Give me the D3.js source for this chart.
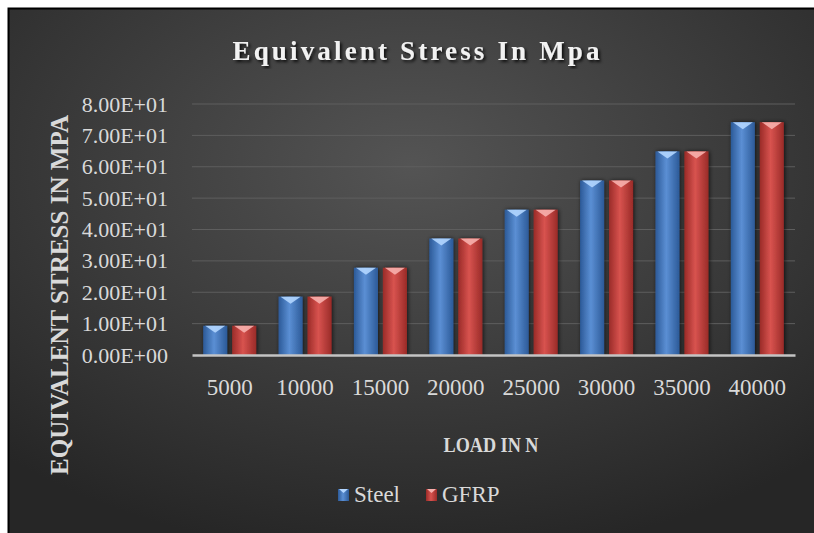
<!DOCTYPE html>
<html>
<head>
<meta charset="utf-8">
<script src="https://cdn.jsdelivr.net/npm/d3@7"></script>
<style>
  body { margin: 0; background: #fff; }
  text { font-family: "Liberation Serif", "Times New Roman", serif; }
</style>
</head>
<body>
<div id="plot"></div>
<script>
// data
const loads = ["5000", "10000", "15000", "20000", "25000", "30000", "35000", "40000"];
const series = ["Steel", "GFRP"];
const steelStress = [9.3, 18.6, 27.8, 37.1, 46.3, 55.6, 64.9, 74.2];
const gfrpStress = [9.3, 18.6, 27.8, 37.1, 46.3, 55.6, 64.9, 74.2];
const yTicks = [0, 10, 20, 30, 40, 50, 60, 70, 80];

const W = 814, H = 533;
const margin = {top: 104, right: 19, bottom: 178, left: 192};

const svg = d3.select("#plot").append("svg")
    .attr("width", W)
    .attr("height", H);

const defs = svg.append("defs");

const bg = defs.append("radialGradient")
    .attr("id", "bg")
    .attr("cx", "50%").attr("cy", "30%").attr("r", "75%");
bg.append("stop").attr("offset", "0%").attr("stop-color", "#545454");
bg.append("stop").attr("offset", "100%").attr("stop-color", "#262626");

const colors = {
    Steel: {edge: "#2c5a98", mid: "#5b8fd4", tip: "#b3d6ff"},
    GFRP: {edge: "#9a2b28", mid: "#d8534f", tip: "#f7b0ad"}
};
series.forEach(s => {
    const g = defs.append("linearGradient")
        .attr("id", "grad-" + s)
        .attr("x1", "0%").attr("x2", "100%").attr("y1", "0%").attr("y2", "0%");
    g.append("stop").attr("offset", "0%").attr("stop-color", colors[s].edge);
    g.append("stop").attr("offset", "45%").attr("stop-color", colors[s].mid);
    g.append("stop").attr("offset", "100%").attr("stop-color", colors[s].edge);
});

const shadow = defs.append("filter").attr("id", "shadow")
    .attr("x", "-30%").attr("y", "-10%").attr("width", "160%").attr("height", "120%");
shadow.append("feDropShadow")
    .attr("dx", 1).attr("dy", 0).attr("stdDeviation", 2)
    .attr("flood-color", "#000").attr("flood-opacity", 0.7);

const textShadow = defs.append("filter").attr("id", "tshadow");
textShadow.append("feDropShadow")
    .attr("dx", 2).attr("dy", 2).attr("stdDeviation", 1.5)
    .attr("flood-color", "#000").attr("flood-opacity", 0.8);

// frame
svg.append("rect")
    .attr("x", 8).attr("y", 8)
    .attr("width", W - 8).attr("height", H - 8)
    .attr("fill", "url(#bg)");
svg.append("path")
    .attr("d", `M8.5,${H} V8.5 H${W}`)
    .attr("fill", "none")
    .attr("stroke", "#000")
    .attr("stroke-width", 2);

const x0 = d3.scaleBand()
    .domain(loads)
    .range([margin.left, W - margin.right])
    .paddingInner(0.297)
    .paddingOuter(0.1485);

const x1 = d3.scaleBand()
    .domain(series)
    .range([0, x0.bandwidth()])
    .paddingInner(0.17);

const y = d3.scaleLinear()
    .domain([0, 80])
    .range([H - margin.bottom, margin.top]);

const fmt = v => {
    const [m, e] = v.toExponential(2).toUpperCase().split("E");
    const n = +e;
    return m + "E" + (n < 0 ? "-" : "+") + String(Math.abs(n)).padStart(2, "0");
};

// gridlines
svg.append("g")
    .selectAll("line")
    .data(yTicks.slice(1))
    .join("line")
    .attr("x1", margin.left).attr("x2", W - margin.right)
    .attr("y1", d => y(d)).attr("y2", d => y(d))
    .attr("stroke", "#5e5e5e")
    .attr("stroke-width", 1);

// y axis labels
const yAxis = svg.append("g")
    .attr("transform", `translate(${margin.left},0)`)
    .call(d3.axisLeft(y).tickValues(yTicks).tickFormat(fmt).tickSize(0).tickPadding(24));
yAxis.select(".domain").remove();
yAxis.selectAll("text")
    .attr("fill", "#d9d9d9")
    .style("font-size", "22px");

// bars
const rows = loads.map((l, i) => ({load: l, Steel: steelStress[i], GFRP: gfrpStress[i]}));
const groups = svg.append("g")
    .selectAll("g")
    .data(rows)
    .join("g")
    .attr("transform", d => `translate(${x0(d.load)},0)`);

const bars = groups.selectAll("g")
    .data(d => series.map(s => ({key: s, value: d[s]})))
    .join("g");

bars.append("rect")
    .attr("x", d => x1(d.key))
    .attr("y", d => y(d.value))
    .attr("width", x1.bandwidth())
    .attr("height", d => y(0) - y(d.value))
    .attr("fill", d => "url(#grad-" + d.key + ")")
    .attr("filter", "url(#shadow)");

bars.append("path")
    .attr("d", d => {
        const bx = x1(d.key), bw = x1.bandwidth(), by = y(d.value);
        return `M${bx + 2},${by} L${bx + bw - 2},${by} L${bx + bw / 2},${by + 7} Z`;
    })
    .attr("fill", d => colors[d.key].tip)
    .attr("opacity", 0.9);

// x axis
const xAxis = svg.append("g")
    .attr("transform", `translate(0,${y(0)})`)
    .call(d3.axisBottom(x0).tickSize(0).tickPadding(24));
xAxis.select(".domain")
    .attr("stroke", "#c4c4c4")
    .attr("stroke-width", 2.5);
xAxis.selectAll("text")
    .attr("fill", "#d9d9d9")
    .style("font-size", "23px");

// titles
svg.append("text")
    .attr("x", 416).attr("y", 60)
    .attr("text-anchor", "middle")
    .attr("fill", "#f2f2f2")
    .attr("filter", "url(#tshadow)")
    .attr("textLength", 367)
    .attr("lengthAdjust", "spacing")
    .style("font-size", "27px")
    .style("font-weight", "bold")
    .text("Equivalent Stress In Mpa");

svg.append("text")
    .attr("transform", "translate(68,295) rotate(-90)")
    .attr("text-anchor", "middle")
    .attr("fill", "#d9d9d9")
    .attr("textLength", 360)
    .attr("lengthAdjust", "spacingAndGlyphs")
    .style("font-size", "25px")
    .style("font-weight", "bold")
    .text("EQUIVALENT STRESS IN MPA");

svg.append("text")
    .attr("x", 491).attr("y", 452)
    .attr("text-anchor", "middle")
    .attr("fill", "#d9d9d9")
    .attr("textLength", 95)
    .attr("lengthAdjust", "spacingAndGlyphs")
    .style("font-size", "22px")
    .style("font-weight", "bold")
    .text("LOAD IN N");

// legend
const legendX = [338, 426];
const legend = svg.append("g")
    .selectAll("g")
    .data(series)
    .join("g")
    .attr("transform", (d, i) => `translate(${legendX[i]},489)`);
legend.append("rect")
    .attr("width", 11).attr("height", 12)
    .attr("fill", d => "url(#grad-" + d + ")");
legend.append("path")
    .attr("d", "M1,0 L10,0 L5.5,4 Z")
    .attr("fill", d => colors[d].tip);
legend.append("text")
    .attr("x", 16).attr("y", 13)
    .attr("fill", "#d9d9d9")
    .style("font-size", "23px")
    .text(d => d);
</script>
</body>
</html>
